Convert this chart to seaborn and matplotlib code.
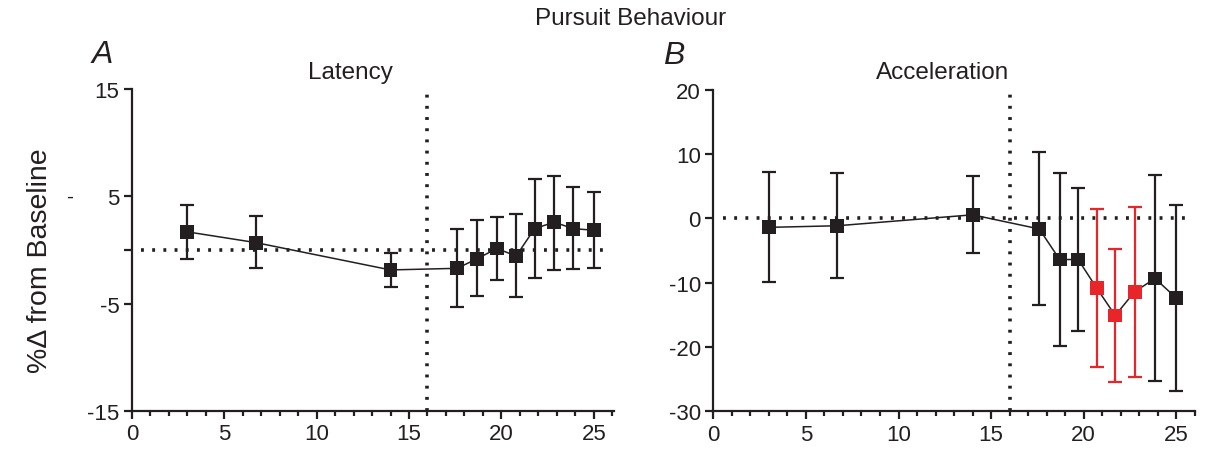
import numpy as np
import pandas as pd
import matplotlib
matplotlib.use("Agg")
import matplotlib.pyplot as plt
import seaborn as sns
from matplotlib.ticker import MultipleLocator

# Data
lat_x = [3.0, 6.7, 14.0, 17.6, 18.7, 19.75, 20.8, 21.8, 22.85, 23.9, 25.0]
lat_mean = [1.7, 0.7, -1.85, -1.7, -0.8, 0.15, -0.55, 2.0, 2.6, 2.0, 1.85]
lat_upper = [4.2, 3.2, -0.3, 2.0, 2.8, 3.1, 3.35, 6.6, 6.95, 5.9, 5.4]
lat_lower = [-0.85, -1.7, -3.4, -5.3, -4.3, -2.8, -4.4, -2.6, -1.9, -1.8, -1.7]

acc_x = [3.0, 6.7, 14.0, 17.6, 18.7, 19.7, 20.7, 21.7, 22.75, 23.85, 25.0]
acc_mean = [-1.4, -1.15, 0.55, -1.65, -6.4, -6.4, -10.85, -15.1, -11.4, -9.35, -12.4]
acc_upper = [7.2, 7.1, 6.6, 10.25, 7.1, 4.65, 1.45, -4.8, 1.75, 6.75, 2.0]
acc_lower = [-9.85, -9.3, -5.35, -13.5, -19.85, -17.5, -23.1, -25.5, -24.6, -25.35, -26.8]
acc_sig = [False, False, False, False, False, False, True, True, True, False, False]
lat_sig = [False] * 11

sns.set_style("ticks")
plt.rcParams["font.family"] = ["Liberation Sans", "DejaVu Sans"]
plt.rcParams["axes.unicode_minus"] = False

INK = "#231f20"
RED = "#e8262a"
DOTS = (0, (0.8, 2.3))

fig = plt.figure(figsize=(12.1, 4.52), dpi=100)
ax_a = fig.add_axes([0.109, 0.0885, 0.3985, 0.712])
ax_b = fig.add_axes([0.5895, 0.0878, 0.398, 0.7115])


def draw_panel(ax, x, mean, upper, lower, sig):
    df = pd.DataFrame({"x": x, "mean": mean, "upper": upper, "lower": lower, "sig": sig})
    # reference lines
    ax.hlines(0, 0.5, 25.5, colors=INK, linestyles=DOTS, linewidth=2.6, zorder=1)
    ax.axvline(16, ymax=1.0, color=INK, linestyle=DOTS, linewidth=2.6, zorder=1)
    # connecting line
    sns.lineplot(data=df, x="x", y="mean", color=INK, linewidth=1.1, ax=ax, zorder=2)
    # error bars
    for _, r in df.iterrows():
        c = RED if r["sig"] else INK
        ax.errorbar(r["x"], r["mean"],
                    yerr=[[r["mean"] - r["lower"]], [r["upper"] - r["mean"]]],
                    fmt="none", ecolor=c, elinewidth=1.6, capsize=4.8, capthick=1.6, zorder=3)
    # markers
    sns.scatterplot(data=df, x="x", y="mean", hue="sig", palette={False: INK, True: RED},
                    marker="s", s=100, linewidth=0, legend=False, ax=ax, zorder=4)
    ax.set_xlabel("")
    ax.set_ylabel("")
    sns.despine(ax=ax)
    for s in ["left", "bottom"]:
        ax.spines[s].set_linewidth(1.6)
        ax.spines[s].set_color(INK)
    ax.xaxis.set_major_locator(MultipleLocator(5))
    ax.xaxis.set_minor_locator(MultipleLocator(1))
    ax.tick_params(which="major", length=6, width=1.6, color=INK, labelsize=16,
                   labelcolor=INK, pad=3)
    ax.tick_params(which="minor", axis="x", length=3.5, width=1.6, color=INK)


draw_panel(ax_a, lat_x, lat_mean, lat_upper, lat_lower, lat_sig)
ax_a.set_xlim(0, 26.1)
ax_a.set_ylim(-15, 15)
ax_a.set_yticks([-15, -5, 0, 5, 15])
ax_a.set_yticklabels(["-15", "-5", "", "5", "15"])

draw_panel(ax_b, acc_x, acc_mean, acc_upper, acc_lower, acc_sig)
ax_b.set_xlim(0, 26)
ax_b.set_ylim(-30, 20)
ax_b.set_yticks([-30, -20, -10, 0, 10, 20])

# text
fig.text(631 / 1210, 1 - 19 / 452, "Pursuit Behaviour", ha="center", va="center",
         fontsize=17.5, color=INK)
fig.text(92 / 1210, 1 - 55 / 452, "A", fontsize=23, style="italic", ha="left", va="center", color=INK)
fig.text(663 / 1210, 1 - 56 / 452, "B", fontsize=23, style="italic", ha="left", va="center", color=INK)
fig.text(350 / 1210, 1 - 73 / 452, "Latency", fontsize=17.5, ha="center", va="center", color=INK)
fig.text(943 / 1210, 1 - 73 / 452, "Acceleration", fontsize=17.5, ha="center", va="center", color=INK)
fig.text(40 / 1210, 1 - 261 / 452, "%Δ from Baseline", fontsize=20.5, rotation=90,
         ha="center", va="center", color=INK)
fig.text(70 / 1210, 1 - 197 / 452, "-", fontsize=15, ha="center", va="center", color=INK)

fig.savefig("out.png", dpi=100)
